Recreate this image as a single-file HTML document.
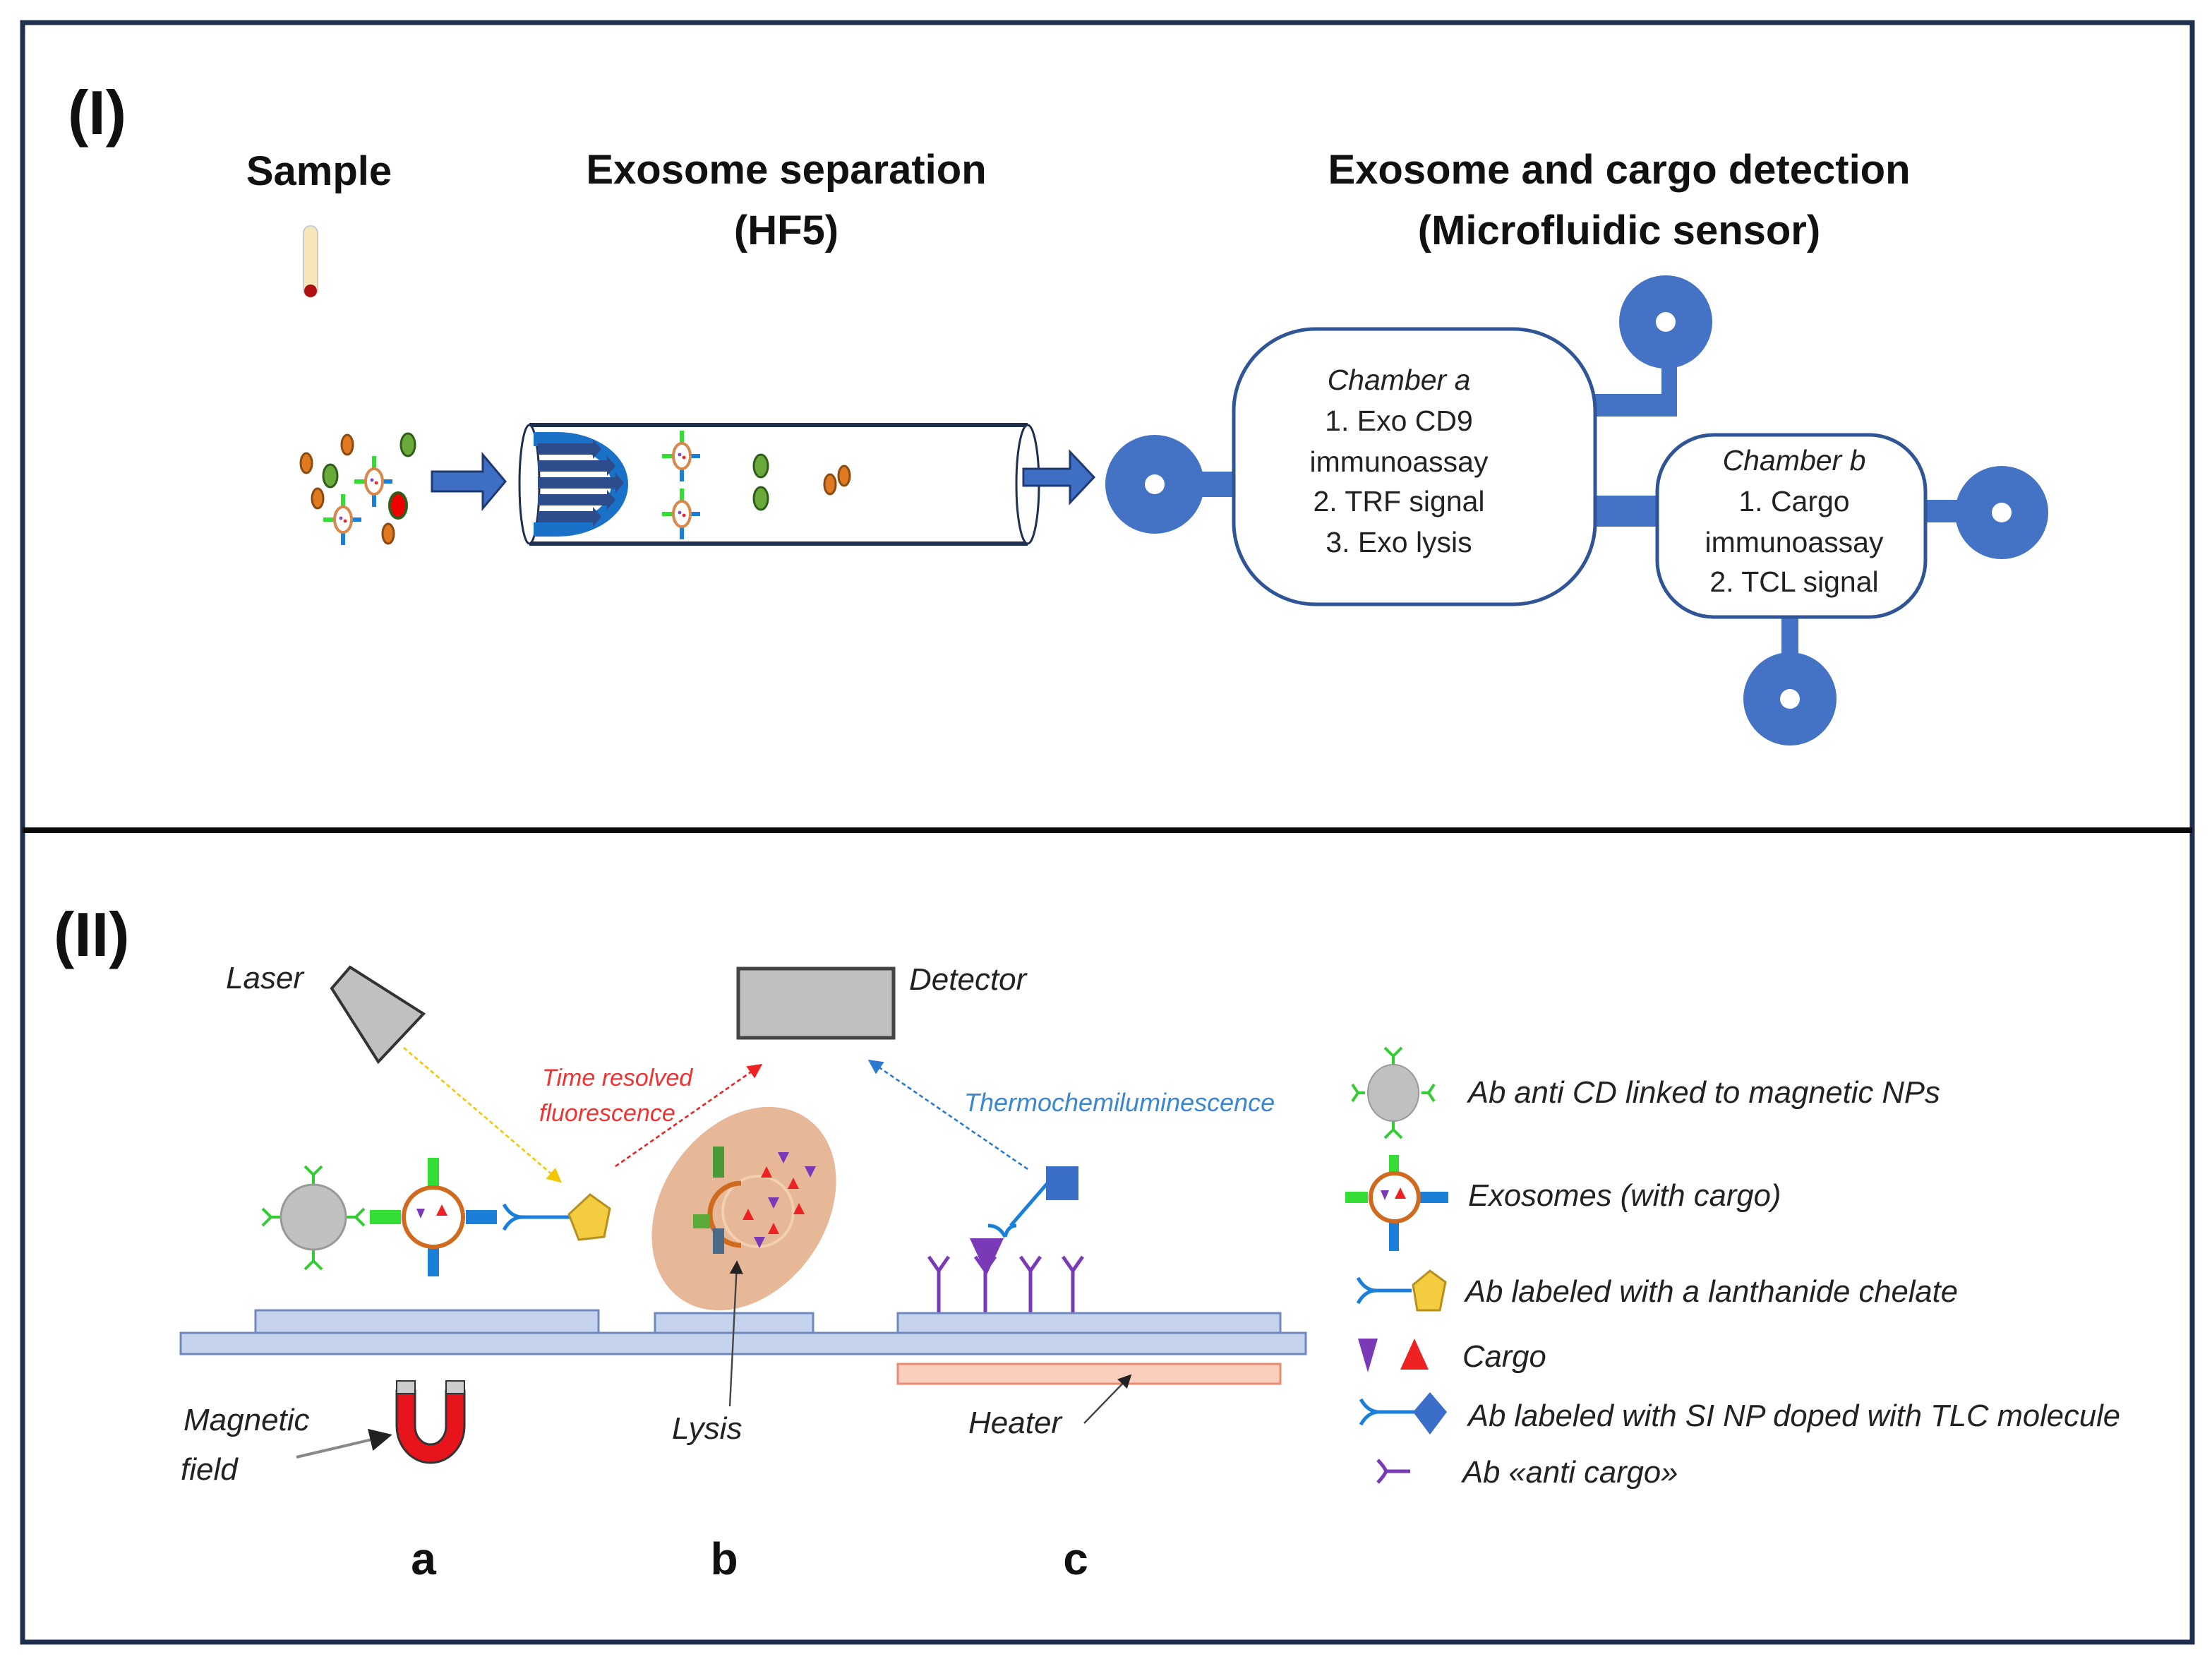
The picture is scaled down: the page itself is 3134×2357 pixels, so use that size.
<!DOCTYPE html>
<html><head><meta charset="utf-8"><style>
html,body{margin:0;padding:0;background:#fff;}
svg{display:block;}
text{font-family:"Liberation Sans",sans-serif;}
.b{font-weight:bold;fill:#111;}
.it{font-style:italic;fill:#222;}
</style></head><body>
<svg width="3134" height="2357" viewBox="0 0 1567 1178.5" xmlns="http://www.w3.org/2000/svg">
<defs>
<g id="exo">
 <line x1="0" y1="-18" x2="0" y2="-8" stroke="#33dd33" stroke-width="3"/>
 <line x1="0" y1="8" x2="0" y2="18" stroke="#1a7fd8" stroke-width="3"/>
 <line x1="-14" y1="0" x2="-6" y2="0" stroke="#33dd33" stroke-width="3"/>
 <line x1="6" y1="0" x2="13" y2="0" stroke="#1a7fd8" stroke-width="3"/>
 <ellipse cx="0" cy="0" rx="6" ry="9" fill="#fff" stroke="#d9874a" stroke-width="2"/>
 <circle cx="-1.5" cy="-1" r="1.2" fill="#8844cc"/><circle cx="1.5" cy="1" r="1.2" fill="#e22"/>
</g>
<g id="drop"><ellipse cx="0" cy="0" rx="4" ry="7" fill="#e07a20" stroke="#8a4a10" stroke-width="1.5"/></g>
<g id="gdot"><ellipse cx="0" cy="0" rx="5" ry="8" fill="#6aaa3a" stroke="#2f5e1a" stroke-width="1.5"/></g>
<marker id="ay" markerWidth="8" markerHeight="8" refX="6" refY="4" orient="auto"><path d="M0,0L8,4L0,8z" fill="#f2c700"/></marker>
<marker id="ar" markerWidth="8" markerHeight="8" refX="6" refY="4" orient="auto"><path d="M0,0L8,4L0,8z" fill="#e22"/></marker>
<marker id="ab" markerWidth="8" markerHeight="8" refX="6" refY="4" orient="auto"><path d="M0,0L8,4L0,8z" fill="#2a7ad0"/></marker>
<marker id="ak" markerWidth="8" markerHeight="8" refX="6" refY="4" orient="auto"><path d="M0,0L8,4L0,8z" fill="#222"/></marker>
</defs>
<rect x="0" y="0" width="1567" height="1178.5" fill="#fff"/>
<rect x="16" y="16" width="1537" height="1147" fill="none" stroke="#1e2f4f" stroke-width="3.5"/>
<line x1="16" y1="588" x2="1553" y2="588" stroke="#0a0a0a" stroke-width="4"/>

<!-- Part I -->
<text x="48" y="95" class="b" font-size="44">(I)</text>
<text x="226" y="131" class="b" font-size="29" text-anchor="middle">Sample</text>
<text x="557" y="130" class="b" font-size="29" text-anchor="middle">Exosome separation</text>
<text x="557" y="173" class="b" font-size="29" text-anchor="middle">(HF5)</text>
<text x="1147" y="130" class="b" font-size="29" text-anchor="middle">Exosome and cargo detection</text>
<text x="1147" y="173" class="b" font-size="29" text-anchor="middle">(Microfluidic sensor)</text>
<rect x="215" y="160" width="10" height="50" rx="5" fill="#f6e6b8" stroke="#ccc" stroke-width="1"/>
<circle cx="220" cy="206" r="4.5" fill="#b01010"/>
<use href="#drop" x="246" y="315"/><use href="#gdot" x="289" y="315"/>
<use href="#drop" x="217" y="328"/><use href="#gdot" x="234" y="337"/>
<use href="#exo" x="265" y="341"/>
<use href="#drop" x="225" y="353"/>
<ellipse cx="282" cy="358" rx="6" ry="9" fill="#e00" stroke="#2f5e1a" stroke-width="2"/>
<use href="#exo" x="243" y="368"/><use href="#drop" x="275" y="378"/>
<path d="M306,334 H342 V322 L358,341 L342,360 V348 H306 Z" fill="#3e6fc4" stroke="#1e3a70" stroke-width="1.5"/>
<path d="M375,301 H728 M375,385 H728" stroke="#1e2f4f" stroke-width="3"/>
<ellipse cx="375" cy="343" rx="7" ry="42" fill="#fff" stroke="#1e2f4f" stroke-width="1.5"/>
<ellipse cx="728" cy="343" rx="8" ry="42" fill="#fff" stroke="#1e2f4f" stroke-width="1.5"/>
<path d="M378,306 H395 A50,37 0 0 1 395,380 H378 V370 H395 A38,27 0 0 0 395,316 H378 Z" fill="#1a72c8"/>
<g fill="#2c4c8c">
<path d="M381,314 H420 V311 L426,318 L420,325 V322 H381 Z"/>
<path d="M381,326 H430 V323 L436,330 L430,337 V334 H381 Z"/>
<path d="M381,338 H436 V335 L442,342 L436,349 V346 H381 Z"/>
<path d="M381,350 H430 V347 L436,354 L430,361 V358 H381 Z"/>
<path d="M381,362 H420 V359 L426,366 L420,373 V370 H381 Z"/>
</g>
<use href="#exo" x="483" y="323"/><use href="#exo" x="483" y="364"/>
<use href="#gdot" x="539" y="330"/><use href="#gdot" x="539" y="353"/>
<use href="#drop" x="588" y="343"/><use href="#drop" x="598" y="337"/>
<path d="M725,332 H758 V320 L775,338 L758,356 V344 H725 Z" fill="#3e6fc4" stroke="#1e3a70" stroke-width="1.5"/>
<g fill="#4472c4">
<circle cx="818" cy="343" r="35"/>
<rect x="845" y="334" width="32" height="18"/>
<rect x="1128" y="279" width="60" height="16"/>
<rect x="1177" y="240" width="11" height="55"/>
<circle cx="1180" cy="228" r="33"/>
<rect x="1128" y="351" width="48" height="22"/>
<rect x="1362" y="354" width="30" height="16"/>
<circle cx="1418" cy="363" r="33"/>
<rect x="1262" y="435" width="12" height="40"/>
<circle cx="1268" cy="495" r="33"/>
</g>
<g fill="#fff"><circle cx="818" cy="343" r="7"/><circle cx="1180" cy="228" r="7"/><circle cx="1418" cy="363" r="7"/><circle cx="1268" cy="495" r="7"/></g>
<rect x="874" y="233" width="256" height="195" rx="58" fill="#fff" stroke="#2f5597" stroke-width="2.5"/>
<rect x="1174" y="308" width="190" height="129" rx="40" fill="#fff" stroke="#2f5597" stroke-width="2.5"/>
<g font-size="20.5" text-anchor="middle" fill="#222">
<text x="991" y="276" font-style="italic">Chamber a</text>
<text x="991" y="305">1. Exo CD9</text>
<text x="991" y="334">immunoassay</text>
<text x="991" y="362">2. TRF signal</text>
<text x="991" y="391">3. Exo lysis</text>
<text x="1271" y="333" font-style="italic">Chamber b</text>
<text x="1271" y="362">1. Cargo</text>
<text x="1271" y="391">immunoassay</text>
<text x="1271" y="419">2. TCL signal</text>
</g>

<!-- Part II -->
<text x="38" y="677" class="b" font-size="44">(II)</text>
<text x="160" y="700" class="it" font-size="22">Laser</text>
<polygon points="248,685 300,718 268,752 235,700" fill="#c0c0c0" stroke="#333" stroke-width="2"/>
<rect x="523" y="686" width="110" height="49" fill="#c0c0c0" stroke="#444" stroke-width="2.5"/>
<text x="644" y="701" class="it" font-size="22">Detector</text>
<line x1="286" y1="742" x2="396" y2="836" stroke="#f2c700" stroke-width="1.3" stroke-dasharray="3,2" marker-end="url(#ay)"/>
<line x1="436" y1="826" x2="538" y2="755" stroke="#e22" stroke-width="1.3" stroke-dasharray="3,2" marker-end="url(#ar)"/>
<line x1="728" y1="828" x2="617" y2="752" stroke="#2a7ad0" stroke-width="1.3" stroke-dasharray="3,2" marker-end="url(#ab)"/>
<text x="384" y="769" font-size="17" font-style="italic" fill="#ee3333">Time resolved</text>
<text x="382" y="794" font-size="17" font-style="italic" fill="#ee3333">fluorescence</text>
<text x="683" y="787" font-size="18" font-style="italic" fill="#3a86d0">Thermochemiluminescence</text>
<g stroke="#33cc33" stroke-width="2" fill="none">
<path d="M222,840 v-8 M222,832 l-6,-6 M222,832 l6,-6 M222,885 v8 M222,893 l-6,6 M222,893 l6,6 M200,862 h-8 M192,862 l-6,-6 M192,862 l-6,6 M244,862 h8 M252,862 l6,-6 M252,862 l6,6"/>
</g>
<circle cx="222" cy="862" r="23" fill="#c0c0c0" stroke="#999" stroke-width="1.5"/>
<rect x="262" y="857" width="22" height="10" fill="#33dd33"/>
<rect x="303" y="820" width="8" height="22" fill="#33dd33"/>
<rect x="330" y="857" width="22" height="10" fill="#1a7fd8"/>
<rect x="303" y="882" width="8" height="22" fill="#1a7fd8"/>
<circle cx="307" cy="862" r="21" fill="#fff" stroke="#d06a1e" stroke-width="3"/>
<path d="M295,856 l6,0 l-3,7z" fill="#7a3ab8"/><path d="M313,853 l4,8 h-8z" fill="#e22"/>
<path d="M357,853 q5,9 13,9 q-8,0 -13,9 M370,862 H405" stroke="#1a7fd8" stroke-width="2.5" fill="none"/>
<polygon points="418,846 432,856 428,876 410,878 403,860" fill="#f4cc40" stroke="#b59020" stroke-width="1.5"/>
<ellipse cx="527" cy="856" rx="58" ry="78" transform="rotate(35 527 856)" fill="#e6b898"/>
<circle cx="537" cy="858" r="25" fill="none" stroke="#f2d0b0" stroke-width="2"/>
<path d="M525,838 a22,22 0 0 0 0,44" fill="none" stroke="#d06a1e" stroke-width="3.5"/>
<rect x="491" y="860" width="12" height="10" fill="#5aaa3a"/>
<rect x="505" y="870" width="8" height="18" fill="#4a6a8a"/>
<rect x="505" y="812" width="8" height="22" fill="#4a9a3a"/>
<g fill="#e22"><path d="M543,826 l4,8 h-8z"/><path d="M562,834 l4,8 h-8z"/><path d="M530,856 l4,8 h-8z"/><path d="M548,866 l4,8 h-8z"/><path d="M566,852 l4,8 h-8z"/></g>
<g fill="#7a3ab8"><path d="M551,816 h8 l-4,8z"/><path d="M570,826 h8 l-4,8z"/><path d="M544,848 h8 l-4,8z"/><path d="M534,876 h8 l-4,8z"/></g>
<g stroke="#7a3ab8" stroke-width="2.5" fill="none">
<path d="M665,900 v32 M658,890 l7,10 l7,-10 M698,900 v32 M691,890 l7,10 l7,-10 M730,900 v32 M723,890 l7,10 l7,-10 M760,900 v32 M753,890 l7,10 l7,-10"/>
</g>
<path d="M687,877 h24 l-12,26z" fill="#7a3ab8"/>
<path d="M700,868 q8,0 12,8 M712,876 q2,-8 8,-8 M716,868 L742,838" stroke="#1a7fd8" stroke-width="2.5" fill="none"/>
<rect x="741" y="826" width="23" height="24" fill="#3a6ec8"/>
<rect x="181" y="928" width="243" height="16" fill="#c5d3ec" stroke="#6f89c0" stroke-width="1.5"/>
<rect x="464" y="930" width="112" height="14" fill="#c5d3ec" stroke="#6f89c0" stroke-width="1.5"/>
<rect x="636" y="930" width="271" height="14" fill="#c5d3ec" stroke="#6f89c0" stroke-width="1.5"/>
<rect x="128" y="944" width="797" height="15" fill="#c5d3ec" stroke="#6f89c0" stroke-width="1.5"/>
<rect x="636" y="966" width="271" height="14" fill="#fbcfbe" stroke="#ea8a70" stroke-width="1.5"/>
<path d="M281,985 V1010 A24,26 0 0 0 329,1010 V985 H316 V1010 A11,13 0 0 1 294,1010 V985 Z" fill="#e8141c" stroke="#333" stroke-width="1.5"/>
<rect x="281" y="978" width="13" height="9" fill="#ccc" stroke="#333"/><rect x="316" y="978" width="13" height="9" fill="#ccc" stroke="#333"/>
<line x1="210" y1="1032" x2="274" y2="1017" stroke="#888" stroke-width="2" marker-end="url(#ak)"/>
<line x1="517" y1="996" x2="522" y2="895" stroke="#444" stroke-width="1.2" marker-end="url(#ak)"/>
<line x1="768" y1="1008" x2="800" y2="975" stroke="#444" stroke-width="1.2" marker-end="url(#ak)"/>
<text x="130" y="1013" class="it" font-size="22">Magnetic</text>
<text x="128" y="1048" class="it" font-size="22">field</text>
<text x="476" y="1019" class="it" font-size="22">Lysis</text>
<text x="686" y="1015" class="it" font-size="22">Heater</text>
<text x="300" y="1115" class="b" font-size="32" text-anchor="middle">a</text>
<text x="513" y="1115" class="b" font-size="32" text-anchor="middle">b</text>
<text x="762" y="1115" class="b" font-size="32" text-anchor="middle">c</text>
<g stroke="#33cc33" stroke-width="2" fill="none">
<path d="M987,756 v-8 M987,748 l-6,-6 M987,748 l6,-6 M987,792 v8 M987,800 l-6,6 M987,800 l6,6 M967,774 h-5 M962,774 l-4,-6 M962,774 l-4,6 M1007,774 h5 M1012,774 l4,-6 M1012,774 l4,6"/>
</g>
<ellipse cx="987" cy="774" rx="18" ry="20" fill="#c0c0c0" stroke="#999"/>
<g class="it" font-size="21.8">
<text x="1040" y="781" class="it">Ab anti CD linked to magnetic NPs</text>
</g>
<rect x="984" y="818" width="7" height="18" fill="#33dd33"/>
<rect x="984" y="862" width="7" height="24" fill="#1a7fd8"/>
<rect x="953" y="844" width="16" height="8" fill="#33dd33"/>
<rect x="1006" y="844" width="20" height="8" fill="#1a7fd8"/>
<circle cx="988" cy="848" r="17" fill="#fff" stroke="#d06a1e" stroke-width="3"/>
<path d="M978,843 h6 l-3,7z" fill="#7a3ab8"/><path d="M992,841 l4,8 h-8z" fill="#e22"/>
<text x="1040" y="854" class="it" font-size="21.8">Exosomes (with cargo)</text>
<path d="M962,905 q5,9 13,9 q-8,0 -13,9 M975,914 H1000" stroke="#1a7fd8" stroke-width="2.5" fill="none"/>
<polygon points="1013,900 1024,908 1020,928 1004,928 1001,910" fill="#f4cc40" stroke="#b59020" stroke-width="1.5"/>
<text x="1038" y="922" class="it" font-size="21.8">Ab labeled with a lanthanide chelate</text>
<path d="M962,948 h14 l-7,24z" fill="#7a3ab8"/><path d="M1002,948 l10,22 h-20z" fill="#e22"/>
<text x="1036" y="968" class="it" font-size="21.8">Cargo</text>
<path d="M964,991 q5,9 13,9 q-8,0 -13,9 M977,1000 H1003" stroke="#1a7fd8" stroke-width="2.5" fill="none"/>
<polygon points="1013,986 1025,1000 1013,1016 1001,1000" fill="#3a6ec8"/>
<text x="1040" y="1010" class="it" font-size="21.8">Ab labeled with SI NP doped with TLC molecule</text>
<path d="M976,1034 q4,4 6,8 q-2,4 -6,8 M982,1042 H999" stroke="#7a3ab8" stroke-width="2.5" fill="none"/>
<text x="1036" y="1050" class="it" font-size="21.8">Ab «anti cargo»</text>
</svg>
</body></html>
